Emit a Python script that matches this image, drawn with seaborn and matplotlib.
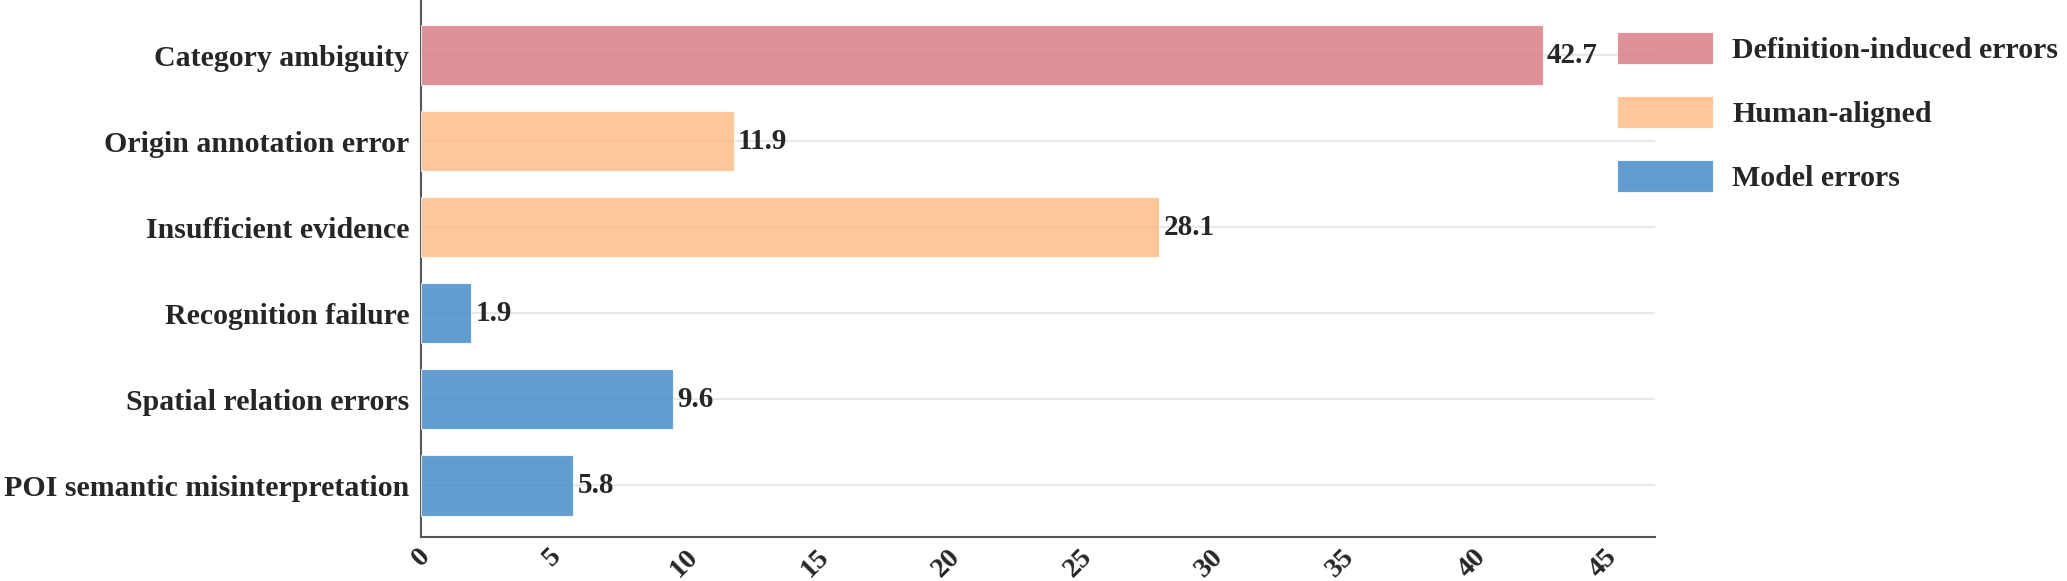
import pandas as pd
import matplotlib.pyplot as plt
import seaborn as sns
from matplotlib.patches import Patch

categories = ['Category ambiguity', 'Origin annotation error', 'Insufficient evidence',
              'Recognition failure', 'Spatial relation errors', 'POI semantic misinterpretation']
values = [42.7, 11.9, 28.1, 1.9, 9.6, 5.8]
groups = ['Definition-induced errors', 'Human-aligned', 'Human-aligned',
          'Model errors', 'Model errors', 'Model errors']
group_names = ['Definition-induced errors', 'Human-aligned', 'Model errors']
group_colors = ['#D8767E', '#FFB881', '#3B85C6']
xticks = [0, 5, 10, 15, 20, 25, 30, 35, 40, 45]


def make_plot(data):
    sns.set_style('white')
    plt.rcParams['font.family'] = ['Liberation Serif', 'DejaVu Serif']
    plt.rcParams['font.weight'] = 'bold'

    fig = plt.figure(figsize=(20.67, 5.81), dpi=100)
    ax = fig.add_axes([0.2037, 0.0757, 0.597, 0.9243])

    palette = dict(zip(group_names, group_colors))
    sns.barplot(data=data, y='category', x='value', hue='group', palette=palette,
                dodge=False, orient='h', width=0.7, saturation=1, legend=False,
                alpha=0.8, edgecolor='white', linewidth=0.8, ax=ax, zorder=3)

    for c in ax.containers:
        ax.bar_label(c, fmt='%.1f', padding=3, fontsize=21, fontweight='bold')

    ax.set_xlim(0, 42.7 * 1.1)
    ax.set_ylim(5.6, -0.64)
    ax.set_xticks(xticks)
    ax.set_xticklabels([str(t) for t in xticks], rotation=45, fontsize=20.5, fontweight='bold')
    ax.tick_params(axis='y', labelsize=21.5, length=5, width=1.2, color='#555555', direction='out')
    ax.tick_params(axis='x', length=5, width=1.2, color='#555555', direction='out', pad=0)
    ax.set_xlabel('')
    ax.set_ylabel('')
    for lbl in ax.get_yticklabels():
        lbl.set_fontweight('bold')

    ax.grid(axis='y', color='#e8e8e8', linewidth=1.5, zorder=0)
    ax.grid(axis='x', visible=False)
    ax.set_axisbelow(True)
    sns.despine(ax=ax)
    for side in ['left', 'bottom']:
        ax.spines[side].set_color('#555555')
        ax.spines[side].set_linewidth(1.5)

    handles = [Patch(facecolor=col, alpha=0.8, edgecolor='white', linewidth=0.8) for col in group_colors]
    fig.legend(handles, group_names, loc='upper left', bbox_to_anchor=(1617 / 2067, 1 - 32 / 581),
               frameon=False, prop={'weight': 'bold', 'size': 21.5},
               handlelength=3.2, handleheight=1.27, labelspacing=1.07,
               handletextpad=0.66, borderpad=0, borderaxespad=0)

    plt.savefig('out.png', dpi=100)


if __name__ == '__main__':
    df = pd.DataFrame({'category': categories, 'value': values, 'group': groups})
    make_plot(df)
